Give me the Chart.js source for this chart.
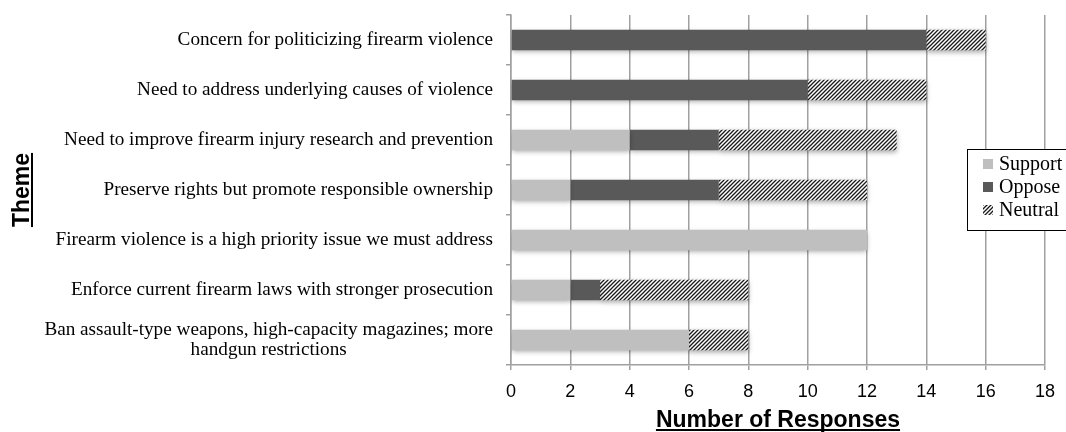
<!DOCTYPE html>
<html>
<head>
<meta charset="utf-8">
<script src="https://cdn.jsdelivr.net/npm/chart.js@4/dist/chart.umd.min.js"></script>
<style>
  html, body { margin: 0; padding: 0; background: #fff; }
  #wrap { width: 1066px; height: 432px; position: relative; overflow: hidden; }
</style>
</head>
<body>
<div id="wrap"><canvas id="c" width="1066" height="432"></canvas></div>
<script>
// Themes, top to bottom
const themes = [
  'Concern for politicizing firearm violence',
  'Need to address underlying causes of violence',
  'Need to improve firearm injury research and prevention',
  'Preserve rights but promote responsible ownership',
  'Firearm violence is a high priority issue we must address',
  'Enforce current firearm laws with stronger prosecution',
  ['Ban assault-type weapons, high-capacity magazines; more', 'handgun restrictions']
];
const support = [0, 0, 4, 2, 12, 2, 6];
const oppose  = [14, 10, 3, 5, 0, 1, 0];
const neutral = [2, 4, 6, 5, 0, 5, 2];
const xTickValues = [0, 2, 4, 6, 8, 10, 12, 14, 16, 18];
const seriesNames = ['Support', 'Oppose', 'Neutral'];

const GRID = '#a0a0a0';
const SERIF = '"Liberation Serif", "Times New Roman", serif';
const SANS = '"Liberation Sans", Arial, sans-serif';

// diagonal hatch fill for the neutral series
function makeHatch() {
  const t = document.createElement('canvas');
  t.width = 4; t.height = 4;
  const g = t.getContext('2d');
  g.fillStyle = '#ffffff';
  g.fillRect(0, 0, 4, 4);
  g.strokeStyle = '#1a1a1a';
  g.lineWidth = 1.3;
  g.beginPath();
  g.moveTo(-1, 5); g.lineTo(5, -1);
  g.moveTo(-1, 1); g.lineTo(1, -1);
  g.moveTo(3, 5); g.lineTo(5, 3);
  g.stroke();
  return g.createPattern(t, 'repeat');
}
const ctx = document.getElementById('c').getContext('2d');
const hatch = makeHatch();
const fills = ['#bfbfbf', '#595959', hatch];

// soft drop shadow under the bars
const barShadow = {
  id: 'barShadow',
  beforeDatasetsDraw(chart) {
    const c = chart.ctx;
    c.save();
    c.shadowColor = 'rgba(0,0,0,0.35)';
    c.shadowBlur = 5;
    c.shadowOffsetX = 0;
    c.shadowOffsetY = 2;
  },
  afterDatasetsDraw(chart) { chart.ctx.restore(); }
};

// theme labels, axis titles and legend box
const decorations = {
  id: 'decorations',
  afterDraw(chart) {
    const c = chart.ctx;
    const ys = chart.scales.y;
    const area = chart.chartArea;
    c.save();
    c.fillStyle = '#000';

    // theme labels: each block right-aligned to the axis, lines centred inside it
    c.font = '19.2px ' + SERIF;
    c.textAlign = 'center';
    c.textBaseline = 'middle';
    const right = 493, lh = 20;
    chart.data.labels.forEach((lab, i) => {
      const lines = Array.isArray(lab) ? lab : [lab];
      const w = Math.max(...lines.map(l => c.measureText(l).width));
      const cx = right - w / 2;
      const cy = ys.getPixelForValue(i);
      lines.forEach((l, k) => c.fillText(l, cx, cy + (k - (lines.length - 1) / 2) * lh));
    });

    // underlined bold axis titles
    c.font = 'bold 23px ' + SANS;
    c.textAlign = 'center';
    c.textBaseline = 'alphabetic';
    const xt = 'Number of Responses';
    const xcx = (area.left + area.right) / 2;
    const xw = c.measureText(xt).width;
    c.fillText(xt, xcx, 427);
    c.fillRect(xcx - xw / 2, 429, xw, 2);

    const yt = 'Theme';
    const yw = c.measureText(yt).width;
    c.save();
    c.translate(29, (area.top + area.bottom) / 2);
    c.rotate(-Math.PI / 2);
    c.fillText(yt, 0, 0);
    c.fillRect(-yw / 2, 2, yw, 2);
    c.restore();

    // legend
    const lx = 967, ly = 149, lhgt = 81;
    c.fillStyle = '#fff';
    c.fillRect(lx, ly, 120, lhgt);
    c.strokeStyle = '#000';
    c.lineWidth = 1;
    c.strokeRect(lx + 0.5, ly + 0.5, 120, lhgt);
    c.font = '20px ' + SERIF;
    c.textAlign = 'left';
    c.textBaseline = 'middle';
    chart.data.datasets.forEach((ds, k) => {
      const cy = ly + 15 + k * 23;
      c.fillStyle = ds.backgroundColor;
      c.fillRect(lx + 16, cy - 5, 10, 10);
      c.fillStyle = '#000';
      c.fillText(ds.label, lx + 32, cy + 1);
    });
    c.restore();
  }
};

new Chart(ctx, {
  type: 'bar',
  data: {
    labels: themes,
    datasets: [
      { label: seriesNames[0], data: support, backgroundColor: fills[0] },
      { label: seriesNames[1], data: oppose,  backgroundColor: fills[1] },
      { label: seriesNames[2], data: neutral, backgroundColor: fills[2] }
    ]
  },
  options: {
    indexAxis: 'y',
    responsive: false,
    animation: false,
    devicePixelRatio: 1,
    layout: { padding: { top: 15, right: 18, left: 0, bottom: 0 } },
    datasets: { bar: { categoryPercentage: 1, barPercentage: 0.41, borderWidth: 0 } },
    plugins: { legend: { display: false }, tooltip: { enabled: false } },
    scales: {
      x: {
        type: 'linear', stacked: true, min: 0, max: 18,
        afterBuildTicks(s) { s.ticks = xTickValues.map(v => ({ value: v })); },
        ticks: { color: '#000', padding: 11, font: { family: SANS, size: 18 } },
        grid: { color: GRID, lineWidth: 1.5, tickLength: 5 },
        border: { color: GRID, width: 1.5 },
        afterFit(s) { s.height = 432 - 365; }
      },
      y: {
        type: 'category', stacked: true, offset: true,
        ticks: { display: false },
        grid: { offset: true, drawOnChartArea: false, tickLength: 5, color: GRID, lineWidth: 1.5 },
        border: { color: GRID, width: 1.5 },
        afterFit(s) { s.width = 511; }
      }
    }
  },
  plugins: [barShadow, decorations]
});
</script>
</body>
</html>
